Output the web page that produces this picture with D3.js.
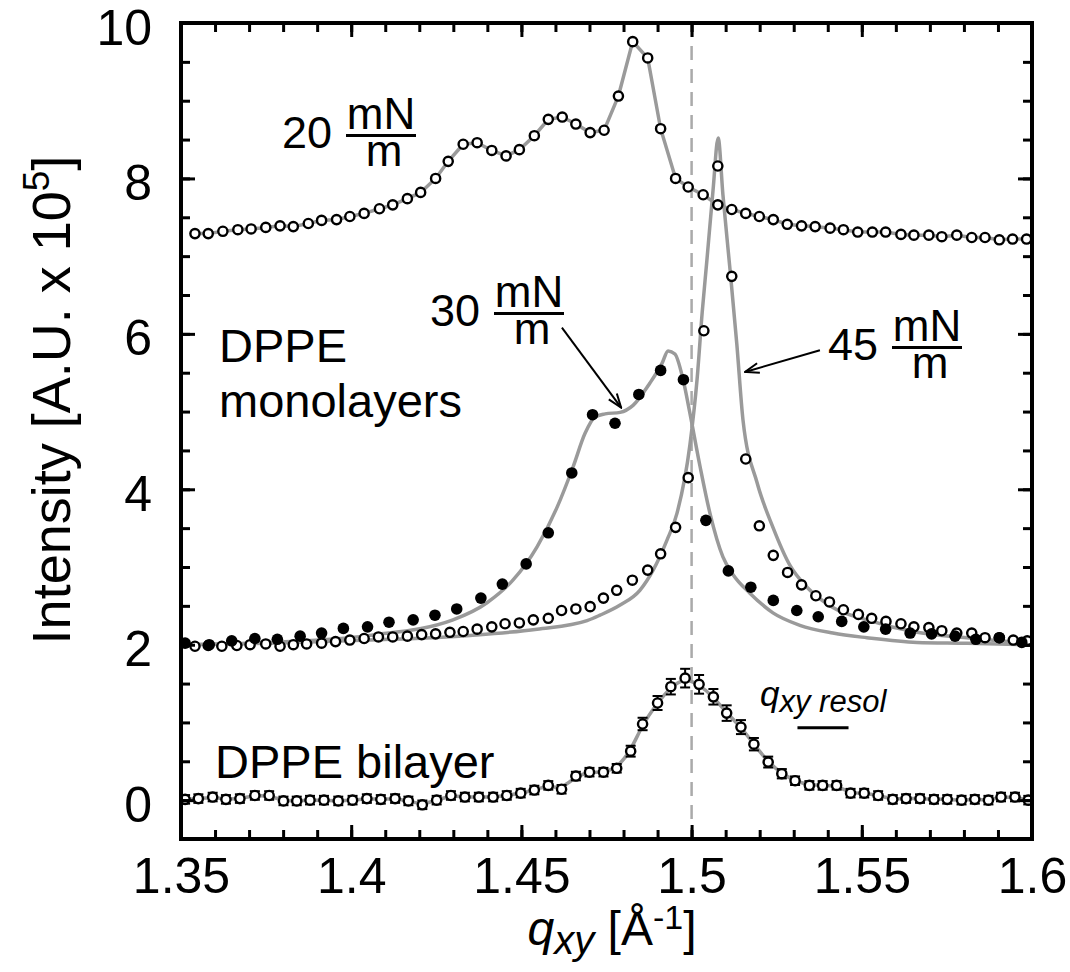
<!DOCTYPE html>
<html>
<head>
<meta charset="utf-8">
<script src="https://cdn.jsdelivr.net/npm/d3@7"></script>
<style>
  body { margin: 0; background: #fff; }
  text { font-family: "Liberation Sans", Arial, Helvetica, sans-serif; fill: #000; }
</style>
</head>
<body>
<script>
// ---- data ----
var xMajor = [1.35, 1.4, 1.45, 1.5, 1.55, 1.6];
var yMajor = [0, 2, 4, 6, 8, 10];

// 20 mN/m monolayer (open circles)
var q20 = [1.3541,1.3580,1.3623,1.3667,1.3706,1.3749,1.3791,1.3830,1.3874,1.3913,
  1.3957,1.3996,1.4038,1.4083,1.4122,1.4165,1.4204,1.4248,1.4285,1.4329,
  1.4370,1.4413,1.4455,1.4494,1.4538,1.4579,1.4620,1.4660,1.4702,1.4743,
  1.4785,1.4827,1.4871,1.4909,1.4953,1.4990,1.5034,1.5077,1.5118,1.5159,
  1.5199,1.5240,1.5281,1.5323,1.5363,1.5407,1.5446,1.5488,1.5531,1.5570,
  1.5615,1.5653,1.5697,1.5735,1.5779,1.5823,1.5862,1.5904,1.5943,1.5984];
var i20 = [7.29,7.29,7.32,7.34,7.35,7.37,7.39,7.38,7.42,7.46,
  7.47,7.51,7.55,7.61,7.66,7.74,7.82,8.00,8.22,8.44,
  8.46,8.36,8.29,8.37,8.55,8.76,8.79,8.70,8.59,8.62,
  9.06,9.76,9.55,8.64,8.00,7.89,7.79,7.66,7.60,7.55,
  7.51,7.47,7.41,7.39,7.38,7.36,7.34,7.31,7.31,7.31,
  7.28,7.27,7.27,7.25,7.27,7.24,7.24,7.21,7.22,7.22];

// 30 mN/m monolayer (filled circles) + fit
var q30 = [1.3512,1.3583,1.3649,1.3717,1.3783,1.3850,1.3913,1.3977,1.4048,1.4111,
  1.4182,1.4246,1.4310,1.4381,1.4444,1.4514,1.4579,1.4648,1.4709,1.4775,
  1.4845,1.4909,1.4976,1.5042,1.5108,1.5174,1.5240,1.5309,1.5372,1.5441,
  1.5506,1.5570,1.5642,1.5705,1.5774,1.5835,1.5904,1.5970];
var i30 = [2.02,2.00,2.05,2.08,2.07,2.11,2.15,2.21,2.23,2.29,
  2.32,2.38,2.46,2.60,2.78,3.04,3.44,4.21,4.96,4.85,
  5.22,5.53,5.41,3.60,2.95,2.74,2.57,2.44,2.36,2.30,
  2.23,2.20,2.15,2.14,2.11,2.07,2.09,2.03];
var fitQ30 = [1.3500,1.3761,1.4055,1.4299,1.4399,1.4475,1.4546,1.4605,1.4652,1.4687,
  1.4716,1.4746,1.4790,1.4828,1.4878,1.4913,1.4931,1.4951,1.4975,1.4995,
  1.5025,1.5054,1.5092,1.5122,1.5172,1.5239,1.5318,1.5415,1.5515,1.5662,
  1.5809,1.6000];
var fitI30 = [2.00,2.03,2.12,2.32,2.54,2.83,3.26,3.77,4.29,4.72,
  4.93,4.97,4.99,5.08,5.37,5.62,5.78,5.74,5.41,4.98,
  4.29,3.69,3.13,2.90,2.66,2.41,2.25,2.15,2.09,2.03,
  2.02,2.00];

// 45 mN/m monolayer (open circles) + fit
var q45 = [1.3541,1.3580,1.3620,1.3664,1.3703,1.3749,1.3791,1.3830,1.3869,1.3913,
  1.3954,1.3996,1.4038,1.4080,1.4122,1.4165,1.4207,1.4248,1.4290,1.4329,
  1.4370,1.4413,1.4452,1.4494,1.4535,1.4579,1.4618,1.4660,1.4702,1.4741,
  1.4780,1.4826,1.4871,1.4909,1.4953,1.4990,1.5036,1.5077,1.5118,1.5159,
  1.5199,1.5240,1.5282,1.5323,1.5365,1.5405,1.5446,1.5490,1.5529,1.5571,
  1.5615,1.5653,1.5697,1.5735,1.5779,1.5823,1.5862,1.5904,1.5945,1.5986];
var i45 = [1.98,1.99,1.98,1.99,2.00,2.01,1.98,2.00,2.01,2.02,
  2.04,2.06,2.08,2.10,2.10,2.11,2.13,2.14,2.16,2.17,
  2.20,2.23,2.27,2.28,2.32,2.34,2.44,2.46,2.49,2.60,
  2.70,2.83,2.96,3.17,3.51,4.15,6.04,8.16,6.74,4.39,
  3.53,3.15,2.93,2.77,2.63,2.55,2.45,2.39,2.34,2.30,
  2.27,2.23,2.22,2.18,2.15,2.15,2.09,2.09,2.06,2.05];
var fitQ45 = [1.3506,1.3761,1.4055,1.4349,1.4546,1.4693,1.4731,1.4790,1.4848,1.4887,
  1.4928,1.4957,1.4995,1.5016,1.5031,1.5045,1.5063,1.5078,1.5092,1.5113,
  1.5133,1.5151,1.5192,1.5239,1.5289,1.5339,1.5415,1.5515,1.5662,1.5809,
  1.5985];
var fitI45 = [2.00,2.02,2.06,2.12,2.20,2.31,2.38,2.51,2.70,2.96,
  3.35,3.69,4.57,5.41,6.27,6.95,7.85,8.52,7.79,6.82,
  5.86,4.89,4.09,3.51,3.02,2.74,2.48,2.32,2.16,2.09,
  2.02];

// DPPE bilayer (open circles with error bars)
var qBi = [1.3512,1.3551,1.3593,1.3632,1.3673,1.3717,1.3759,1.3801,1.3840,1.3879,
  1.3920,1.3962,1.4004,1.4046,1.4087,1.4129,1.4168,1.4209,1.4251,1.4293,
  1.4334,1.4375,1.4417,1.4457,1.4498,1.4538,1.4579,1.4618,1.4660,1.4700,
  1.4741,1.4780,1.4821,1.4856,1.4900,1.4939,1.4981,1.5022,1.5064,1.5103,
  1.5145,1.5183,1.5225,1.5265,1.5304,1.5346,1.5385,1.5426,1.5467,1.5507,
  1.5548,1.5591,1.5630,1.5671,1.5712,1.5751,1.5793,1.5832,1.5872,1.5909,
  1.5950,1.5989];
var iBi = [0.01,0.02,0.04,0.01,0.02,0.06,0.06,-0.01,-0.01,0.00,
  0.00,-0.01,0.00,0.02,0.01,0.02,-0.01,-0.06,0.00,0.06,
  0.04,0.04,0.04,0.06,0.09,0.13,0.19,0.14,0.31,0.36,
  0.36,0.41,0.63,0.98,1.25,1.46,1.57,1.49,1.33,1.12,
  0.94,0.72,0.49,0.34,0.25,0.19,0.19,0.19,0.09,0.09,
  0.06,0.01,0.02,0.02,0.01,0.01,0.00,0.01,0.00,0.04,
  0.04,0.00];
var eBi = [0.055,0.055,0.055,0.055,0.055,0.055,0.055,0.055,0.055,0.055,
  0.055,0.055,0.055,0.055,0.055,0.055,0.055,0.055,0.055,0.055,
  0.055,0.055,0.055,0.055,0.055,0.055,0.055,0.055,0.055,0.055,
  0.055,0.055,0.07,0.08,0.09,0.10,0.12,0.12,0.10,0.10,
  0.09,0.08,0.07,0.06,0.055,0.055,0.055,0.055,0.055,0.055,
  0.055,0.055,0.055,0.055,0.055,0.055,0.055,0.055,0.055,0.055,
  0.055,0.055];

// q_xy resolution bar
var resolQ = [1.5311, 1.5461];
var resolI = 0.93;

// ---- chart ----
var W = 1070, H = 972;
var padL = 181, padR = 1032, padT = 23, padB = 839;

var svg = d3.select('body').append('svg')
  .attr('width', W)
  .attr('height', H);

svg.append('rect').attr('width', W).attr('height', H).attr('fill', '#fff');

var x = d3.scaleLinear().domain([1.35, 1.6]).range([padL, padR]);
var y = d3.scaleLinear().domain([-0.5, 10]).range([padB, padT]);

function zip(qs, is) {
  return qs.map(function(q, k) { return { q: q, i: is[k] }; });
}

var d20 = zip(q20, i20),
    d30 = zip(q30, i30),
    d45 = zip(q45, i45),
    dBi = qBi.map(function(q, k) { return { q: q, i: iBi[k], e: eBi[k] }; });

var line = d3.line()
  .x(function(d) { return x(d.q); })
  .y(function(d) { return y(d.i); });

var plot = svg.append('g');

// dashed reference at q = 1.5
plot.append('line')
  .attr('x1', x(1.5)).attr('x2', x(1.5))
  .attr('y1', y(10)).attr('y2', y(-0.5))
  .attr('stroke', '#aaa')
  .attr('stroke-width', 2.5)
  .attr('stroke-dasharray', '14,9');

// gray fit lines
var fits = [
  { d: d20, curve: d3.curveLinear },
  { d: zip(fitQ30, fitI30), curve: d3.curveMonotoneX },
  { d: zip(fitQ45, fitI45), curve: d3.curveMonotoneX },
  { d: dBi, curve: d3.curveBasis }
];
fits.forEach(function(f) {
  plot.append('path')
    .attr('d', line.curve(f.curve)(f.d))
    .attr('fill', 'none')
    .attr('stroke', '#9a9a9a')
    .attr('stroke-width', 3.5);
});

// error bars for the bilayer
var eb = plot.append('g').attr('stroke', '#000').attr('stroke-width', 2);
dBi.forEach(function(d) {
  var cx = x(d.q), y0 = y(d.i - d.e), y1 = y(d.i + d.e);
  eb.append('line').attr('x1', cx).attr('x2', cx).attr('y1', y0).attr('y2', y1);
  eb.append('line').attr('x1', cx - 5).attr('x2', cx + 5).attr('y1', y0).attr('y2', y0);
  eb.append('line').attr('x1', cx - 5).attr('x2', cx + 5).attr('y1', y1).attr('y2', y1);
});

function openDots(data) {
  plot.append('g').selectAll('circle')
    .data(data)
    .enter()
    .append('circle')
      .attr('cx', function(d) { return x(d.q); })
      .attr('cy', function(d) { return y(d.i); })
      .attr('r', 4.6)
      .attr('fill', '#fff')
      .attr('stroke', '#000')
      .attr('stroke-width', 2.4);
}

openDots(d45);
openDots(d20);
plot.append('g').selectAll('circle')
  .data(d30)
  .enter()
  .append('circle')
    .attr('cx', function(d) { return x(d.q); })
    .attr('cy', function(d) { return y(d.i); })
    .attr('r', 5.8)
    .attr('fill', '#000');
openDots(dBi);

// ---- axes: frame with inward ticks on all four sides ----
var minorX = d3.range(135, 161).map(function(v) { return v / 100; });
var minorY = d3.range(0, 21).map(function(v) { return v / 2; });

function addAxis(axis, tx, ty) {
  var g = svg.append('g')
    .attr('transform', 'translate(' + tx + ',' + ty + ')')
    .call(axis);
  g.select('.domain').remove();
  g.selectAll('line').attr('stroke', '#000').attr('stroke-width', 3);
  g.selectAll('text')
    .style('font-family', '"Liberation Sans", Arial, sans-serif')
    .style('font-size', '50px')
    .attr('fill', '#000');
  return g;
}

var blank = function() { return ''; };

addAxis(d3.axisBottom(x).tickValues(minorX).tickSize(-9).tickFormat(blank), 0, padB);
addAxis(d3.axisTop(x).tickValues(minorX).tickSize(-9).tickFormat(blank), 0, padT);
addAxis(d3.axisLeft(y).tickValues(minorY).tickSize(-9).tickFormat(blank), padL, 0);
addAxis(d3.axisRight(y).tickValues(minorY).tickSize(-9).tickFormat(blank), padR, 0);

addAxis(d3.axisBottom(x).tickValues(xMajor).tickSize(-14).tickPadding(18)
  .tickFormat(d3.format('')), 0, padB);
addAxis(d3.axisTop(x).tickValues(xMajor).tickSize(-14).tickFormat(blank), 0, padT);
var yAx = addAxis(d3.axisLeft(y).tickValues(yMajor).tickSize(-14).tickPadding(29)
  .tickFormat(d3.format('')), padL, 0);
yAx.selectAll('text').attr('dy', '0.42em');
addAxis(d3.axisRight(y).tickValues(yMajor).tickSize(-14).tickFormat(blank), padR, 0);

svg.append('rect')
  .attr('x', padL).attr('y', padT)
  .attr('width', padR - padL).attr('height', padB - padT)
  .attr('fill', 'none')
  .attr('stroke', '#000')
  .attr('stroke-width', 4);

// ---- axis titles ----
var xt = svg.append('text')
  .attr('x', 612).attr('y', 945)
  .attr('text-anchor', 'middle')
  .style('font-size', '48px');
xt.append('tspan').style('font-style', 'italic').text('q');
xt.append('tspan').style('font-style', 'italic').style('font-size', '40px').attr('dy', 9).text('xy');
xt.append('tspan').attr('dy', -9).text(' [Å');
xt.append('tspan').style('font-size', '34px').attr('dy', -16).text('-1');
xt.append('tspan').attr('dy', 16).text(']');

var yt = svg.append('text')
  .attr('transform', 'translate(70,400) rotate(-90)')
  .attr('text-anchor', 'middle')
  .style('font-size', '54px');
yt.append('tspan').text('Intensity [A.U. x 10');
yt.append('tspan').style('font-size', '37px').attr('dy', -21).text('5');
yt.append('tspan').attr('dy', 21).text(']');

// ---- annotations ----
function pressure(x0, base, num) {
  var g = svg.append('g');
  g.append('text').attr('x', x0).attr('y', base).style('font-size', '45px').text(num);
  var cx = x0 + 99;
  g.append('text').attr('x', cx).attr('y', base - 19).attr('text-anchor', 'middle')
    .style('font-size', '44px').text('mN');
  g.append('line').attr('x1', cx - 35).attr('x2', cx + 35)
    .attr('y1', base - 12.5).attr('y2', base - 12.5)
    .attr('stroke', '#000').attr('stroke-width', 3);
  g.append('text').attr('x', cx + 3).attr('y', base + 18).attr('text-anchor', 'middle')
    .style('font-size', '44px').text('m');
}
pressure(282, 148, '20');
pressure(430, 326, '30');
pressure(828, 360, '45');

svg.append('defs').append('marker')
  .attr('id', 'arr')
  .attr('markerUnits', 'userSpaceOnUse')
  .attr('viewBox', '0 -6 16 12')
  .attr('refX', 15).attr('refY', 0)
  .attr('markerWidth', 16).attr('markerHeight', 12)
  .attr('orient', 'auto')
  .append('path')
    .attr('d', 'M1,-5 L15,0 L1,5')
    .attr('fill', 'none')
    .attr('stroke', '#000')
    .attr('stroke-width', 2);

var arrows = [
  { from: [1.4619, 6.08], to: [1.4793, 5.05] },
  { from: [1.5377, 5.79], to: [1.5157, 5.51] }
];
arrows.forEach(function(a) {
  svg.append('line')
    .attr('x1', x(a.from[0])).attr('y1', y(a.from[1]))
    .attr('x2', x(a.to[0])).attr('y2', y(a.to[1]))
    .attr('stroke', '#000')
    .attr('stroke-width', 2)
    .attr('marker-end', 'url(#arr)');
});

svg.append('text').attr('x', 219).attr('y', 362).style('font-size', '47px').text('DPPE');
svg.append('text').attr('x', 219).attr('y', 417).style('font-size', '47px').text('monolayers');
svg.append('text').attr('x', 215).attr('y', 778).style('font-size', '47px').text('DPPE bilayer');

var rt = svg.append('text').attr('x', 760).attr('y', 706)
  .style('font-size', '35px').style('font-style', 'italic');
rt.append('tspan').text('q');
rt.append('tspan').style('font-size', '31px').attr('dy', 6).text('xy resol');

svg.append('line')
  .attr('x1', x(resolQ[0])).attr('x2', x(resolQ[1]))
  .attr('y1', y(resolI)).attr('y2', y(resolI))
  .attr('stroke', '#000')
  .attr('stroke-width', 3);
</script>
</body>
</html>
